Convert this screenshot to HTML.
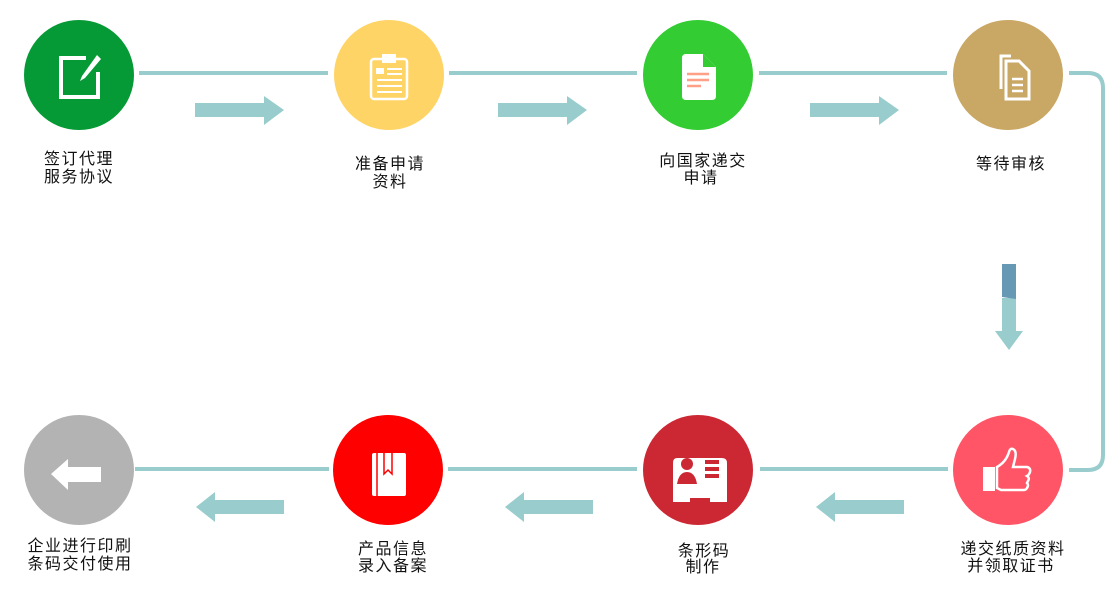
<!DOCTYPE html>
<html><head><meta charset="utf-8"><style>
html,body{margin:0;padding:0;background:#fff;}
svg text{font-family:"Liberation Sans","Noto Sans CJK SC",sans-serif;font-size:16px;fill:#111;letter-spacing:1.5px;text-anchor:middle;}
</style></head><body>
<svg width="1120" height="603" viewBox="0 0 1120 603" xmlns="http://www.w3.org/2000/svg">
<g stroke="#99cccc" stroke-width="4" fill="none">
<line x1="139" y1="73" x2="328" y2="73"/>
<line x1="449" y1="73" x2="637" y2="73"/>
<line x1="759" y1="73" x2="947" y2="73"/>
<path d="M1069 73 H1088 Q1103 73 1103 88 V455 Q1103 470 1088 470 H1069"/>
<line x1="135" y1="469" x2="329" y2="469"/>
<line x1="448" y1="469" x2="637" y2="469"/>
<line x1="760" y1="469" x2="948" y2="469"/>
</g>
<g fill="#99cccc">
<polygon points="195,103 264,103 264,96 284,110 264,125 264,117 195,117"/>
<polygon points="498,103 567,103 567,96 587,110 567,125 567,117 498,117"/>
<polygon points="810,103 879,103 879,96 899,110 879,125 879,117 810,117"/>
<polygon points="284,500 215,500 215,492 196,507 215,522 215,514 284,514"/>
<polygon points="593,500 524,500 524,492 505,507 524,522 524,514 593,514"/>
<polygon points="904,500 835,500 835,492 816,507 835,522 835,514 904,514"/>
<polygon points="1002,298 1016,298 1016,331 1023,331 1009,350 995,331 1002,331"/>
</g>
<polygon points="1002,264 1016,264 1016,299 1002,297" fill="#6699b3"/>
<circle cx="79" cy="75" r="55" fill="#069a36"/>
<circle cx="389" cy="75" r="55" fill="#ffd466"/>
<circle cx="698" cy="75" r="55" fill="#33cc33"/>
<circle cx="1008" cy="75" r="55" fill="#c9a764"/>
<circle cx="79" cy="470" r="55" fill="#b3b3b3"/>
<circle cx="388" cy="470" r="55" fill="#ff0000"/>
<circle cx="698" cy="470" r="55" fill="#cc2833"/>
<circle cx="1008" cy="470" r="55" fill="#ff5566"/>
<!-- icons -->
<g fill="none" stroke="#fff" stroke-width="4">
<path d="M86 58 H61 V97 H98 V72"/>
</g>
<polygon points="97,55 101,59 85,78 80,81 82,76" fill="#fff"/>
<rect x="371" y="59" width="36" height="40" rx="3" fill="none" stroke="#fff" stroke-width="2.5"/>
<rect x="382" y="54" width="14" height="9" fill="#fff"/>
<rect x="376" y="68" width="8" height="6" fill="#fff"/>
<g stroke="#fff" stroke-width="2"><line x1="387" y1="69" x2="402" y2="69"/><line x1="387" y1="74" x2="402" y2="74"/><line x1="377" y1="80" x2="402" y2="80"/><line x1="377" y1="86" x2="402" y2="86"/><line x1="377" y1="92" x2="402" y2="92"/></g>
<path d="M686 54 H703 L716 67 V96 Q716 100 712 100 H686 Q682 100 682 96 V58 Q682 54 686 54Z" fill="#fff"/>
<polygon points="703,54 716,67 703,67" fill="#33cc33"/>
<g stroke="#ff9f88" stroke-width="2.5"><line x1="687" y1="74" x2="709" y2="74"/><line x1="687" y1="80" x2="709" y2="80"/><line x1="687" y1="86" x2="701" y2="86"/></g>
<path d="M1001 89 V56 H1011" fill="none" stroke="#fff" stroke-width="3"/>
<path d="M1006 61 H1019 L1029 71 V99 H1006Z" fill="none" stroke="#fff" stroke-width="3"/>
<g stroke="#fff" stroke-width="2.5"><line x1="1012" y1="79" x2="1023" y2="79"/><line x1="1012" y1="85" x2="1023" y2="85"/><line x1="1012" y1="91" x2="1023" y2="91"/></g>
<polygon points="51,474 68,459 68,467 101,467 101,482 68,482 68,490" fill="#fff"/>
<rect x="372" y="453" width="34" height="43" rx="2" fill="#fff"/>
<line x1="377" y1="453" x2="377" y2="496" stroke="#ff0000" stroke-width="1.5"/>
<polyline points="384,451 384,474 388,470 392,474 392,452" fill="none" stroke="#ff0000" stroke-width="1.5"/>
<path d="M673 463 Q673 458 677 458 H722 Q727 458 727 463 V502 H710 V498 H690 V502 H673Z" fill="#fff"/>
<circle cx="687" cy="464" r="6" fill="#cc2833"/>
<path d="M677 484 Q679 472 687 472 Q695 472 697 484Z" fill="#cc2833"/>
<g fill="#cc2833"><rect x="705" y="460" width="14" height="4"/><rect x="705" y="467" width="14" height="4"/><rect x="705" y="474" width="14" height="4"/></g>
<rect x="983" y="467" width="12" height="24" fill="#fff"/>
<path d="M997 467 Q1006 462 1009 452 Q1010 448 1013 449 Q1017 451 1015 459 L1013 467 H1027 Q1031 468 1030 472 Q1029 475 1027 476 Q1030 478 1028 481 L1027 483 Q1029 485 1027 488 Q1026 490 1024 490 H1001 L997 488Z" fill="none" stroke="#fff" stroke-width="2.5"/>
<!-- labels -->
<text x="79" y="164">签订代理</text><text x="79" y="182">服务协议</text>
<text x="390" y="169">准备申请</text><text x="390" y="187">资料</text>
<text x="703" y="166">向国家递交</text><text x="701" y="183">申请</text>
<text x="1011" y="169">等待审核</text>
<text x="80" y="551">企业进行印刷</text><text x="80" y="569">条码交付使用</text>
<text x="393" y="554">产品信息</text><text x="393" y="571">录入备案</text>
<text x="704" y="556">条形码</text><text x="703" y="572">制作</text>
<text x="1013" y="554">递交纸质资料</text><text x="1011" y="571">并领取证书</text>
</svg>
</body></html>
